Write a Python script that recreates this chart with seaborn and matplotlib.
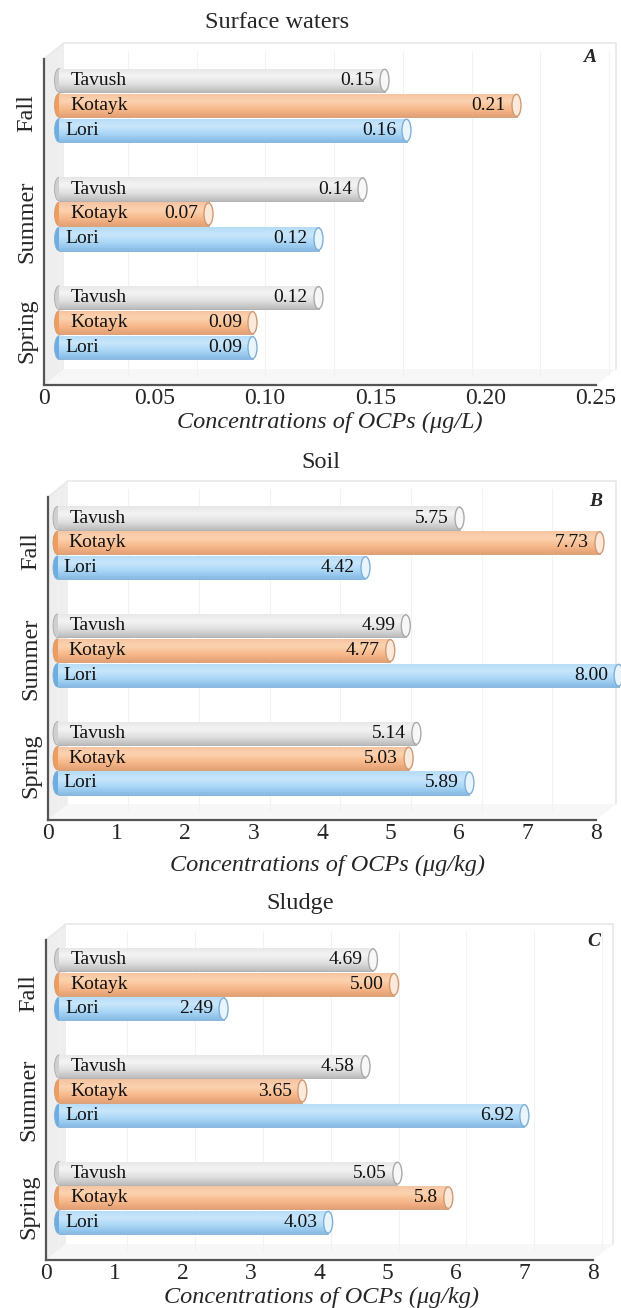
import numpy as np
import pandas as pd
import matplotlib
matplotlib.use("Agg")
import matplotlib.pyplot as plt
from matplotlib.patches import Ellipse, Polygon
from matplotlib.lines import Line2D
from matplotlib.colors import LinearSegmentedColormap
import seaborn as sns

# ---------------------------------------------------------------- data
seasons = ["Fall", "Summer", "Spring"]
sites = ["Tavush", "Kotayk", "Lori"]

# concentration labels per season, ordered Tavush, Kotayk, Lori
water_fall = ["0.15", "0.21", "0.16"]
water_summer = ["0.14", "0.07", "0.12"]
water_spring = ["0.12", "0.09", "0.09"]

soil_fall = ["5.75", "7.73", "4.42"]
soil_summer = ["4.99", "4.77", "8.00"]
soil_spring = ["5.14", "5.03", "5.89"]

sludge_fall = ["4.69", "5.00", "2.49"]
sludge_summer = ["4.58", "3.65", "6.92"]
sludge_spring = ["5.05", "5.8", "4.03"]

water_ticks = ["0", "0.05", "0.10", "0.15", "0.20", "0.25"]
soil_ticks = ["0", "1", "2", "3", "4", "5", "6", "7", "8"]
sludge_ticks = ["0", "1", "2", "3", "4", "5", "6", "7", "8"]

titles = ["Surface waters", "Soil", "Sludge"]
units = ["μg/L", "μg/kg", "μg/kg"]
letters = ["A", "B", "C"]

# ---------------------------------------------------------------- style
sns.set_style("white")
plt.rcParams["font.family"] = ["Liberation Serif", "DejaVu Serif"]

W, H = 621, 1308
fig = plt.figure(figsize=(W / 100, H / 100), dpi=100)
fig.patch.set_facecolor("white")


def fx(x):
    return x / W


def fy(y):
    return 1 - y / H


def box(left, right, top, bottom):
    return [fx(left), fy(bottom), (right - left) / W, (bottom - top) / H]


# cylinder shading: (top, highlight, mid, bottom), outline, end face, left cap
shades = {
    "Tavush": (["#e6e6e7", "#f4f4f5", "#dfdfe0", "#bcbcbc"], "#a9a9a9", "#f7f7f7", "#cfcfcf"),
    "Kotayk": (["#f6c3a0", "#fcd2b0", "#f7b98b", "#e3a074"], "#cf9a74", "#fde9d9", "#ee9d5e"),
    "Lori": (["#b6dcf7", "#c8e6fb", "#a8d5f6", "#86bae3"], "#80afd6", "#e8f5fd", "#6dade2"),
}
name_shift = {"Tavush": 12, "Kotayk": 11, "Lori": 6}

# panel geometry in pixels
panels = [
    dict(front=(44, 596, 59, 385), bar_x0=59, ppu=2200.0, shift_y=8,
         title_xy=(277, 22), label_xy=(330, 422), letter_xy=(590, 57),
         xmax=0.25, ticks=water_ticks,
         rows=[water_fall, water_summer, water_spring]),
    dict(front=(48, 596, 497, 820), bar_x0=57.5, ppu=70.7, shift_y=8,
         title_xy=(321, 462), label_xy=(327, 865), letter_xy=(596, 502),
         xmax=8, ticks=soil_ticks,
         rows=[soil_fall, soil_summer, soil_spring]),
    dict(front=(46, 593, 940, 1260), bar_x0=59, ppu=67.9, shift_y=9,
         title_xy=(300, 903), label_xy=(322, 1297), letter_xy=(594, 942),
         xmax=8, ticks=sludge_ticks,
         rows=[sludge_fall, sludge_summer, sludge_spring]),
]

grad = np.linspace(0, 1, 64).reshape(-1, 1)

for p, title, unit, letter in zip(panels, titles, units, letters):
    left, right, top, bottom = p["front"]

    # depth walls behind the plot
    d = 20
    fig.add_artist(Polygon([(fx(left), fy(top)), (fx(left + d), fy(top - 16)),
                            (fx(left + d), fy(bottom - 16)), (fx(left), fy(bottom))],
                           closed=True, transform=fig.transFigure,
                           facecolor="#eeeeee", edgecolor="none", zorder=-2))
    fig.add_artist(Polygon([(fx(left), fy(bottom)), (fx(left + d), fy(bottom - 16)),
                            (fx(right + d), fy(bottom - 16)), (fx(right), fy(bottom))],
                           closed=True, transform=fig.transFigure,
                           facecolor="#f7f7f7", edgecolor="none", zorder=-2))
    fig.add_artist(Line2D([fx(left), fx(left + d), fx(right + d), fx(right + d)],
                          [fy(top), fy(top - 16), fy(top - 16), fy(bottom - 16)],
                          transform=fig.transFigure, color="#e8e8e8", lw=1.2, zorder=-1))

    # long table for seaborn
    df = pd.DataFrame(
        [(s, site, float(v)) for s, row in zip(seasons, p["rows"]) for site, v in zip(sites, row)],
        columns=["season", "site", "value"],
    )
    texts = {(s, site): v for s, row in zip(seasons, p["rows"]) for site, v in zip(sites, row)}

    # back plane carrying the bars
    bw = right - left
    axb = fig.add_axes(box(p["bar_x0"], p["bar_x0"] + bw, top - p["shift_y"], bottom - p["shift_y"]))
    axb.set_facecolor("none")
    sns.barplot(data=df, y="season", x="value", hue="site", order=seasons,
                hue_order=sites, orient="h", width=0.69, gap=0.06,
                palette={k: v[0][2] for k, v in shades.items()}, saturation=1,
                legend=False, ax=axb)
    xlim_b = bw / p["ppu"]
    capw = 9 / p["ppu"]

    for site, cont in zip(sites, axb.containers):
        cols, edge, face, capcol = shades[site]
        cmap = LinearSegmentedColormap.from_list(site, cols)
        for season, patch in zip(seasons, cont):
            x, y = patch.get_x(), patch.get_y()
            w, h = patch.get_width(), patch.get_height()
            yc = y + h / 2
            end = x + w - capw / 2
            patch.set_width(end - x)
            patch.set_edgecolor(edge)
            patch.set_linewidth(0.6)
            patch.set_zorder(2)
            patch.set_clip_on(False)
            im = axb.imshow(grad, cmap=cmap, aspect="auto", interpolation="bilinear",
                            extent=(x, end, y + h, y), origin="upper", zorder=2.5)
            im.set_clip_path(patch)
            axb.add_patch(Ellipse((x, yc), capw, h, facecolor=capcol, edgecolor=edge,
                                  lw=0.6, zorder=1.8, clip_on=False))
            axb.add_patch(Ellipse((end, yc), capw, h * 0.94, facecolor=face,
                                  edgecolor=edge, lw=1.0, zorder=3, clip_on=False))
            axb.annotate(site, xy=(0, yc), xytext=(name_shift[site] * 0.72, 0),
                         textcoords="offset points", ha="left", va="center",
                         fontsize=14, color="#111111", zorder=4, annotation_clip=False)
            axb.annotate(texts[(season, site)], xy=(x + w, yc), xytext=(-15 * 0.72, 0),
                         textcoords="offset points", ha="right", va="center",
                         fontsize=14, color="#111111", zorder=4, annotation_clip=False)

    axb.set_xlim(0, xlim_b)
    axb.set_ylim(2.5, -0.5)
    axb.set_xticks(np.arange(0, xlim_b, p["xmax"] / 8 if p["xmax"] < 1 else 1))
    axb.grid(axis="x", color="#f2f2f2", lw=0.8)
    axb.tick_params(left=False, bottom=False, labelleft=False, labelbottom=False)
    axb.set_xlabel("")
    axb.set_ylabel("")
    for s in axb.spines.values():
        s.set_visible(False)

    # front frame with axes, ticks and labels
    axf = fig.add_axes(box(left, right, top, bottom))
    axf.set_facecolor("none")
    axf.set_xlim(0, p["xmax"])
    axf.set_ylim(0, 3)
    tick_vals = [float(t) for t in p["ticks"]]
    axf.set_xticks(tick_vals)
    axf.set_xticklabels(p["ticks"], fontsize=17)
    axf.set_yticks([0, 1, 2, 3])
    axf.set_yticklabels([])
    axf.set_yticks([0.5, 1.5, 2.5], minor=True)
    axf.set_yticklabels(seasons[::-1], minor=True, rotation=90, va="center", fontsize=17.5)
    axf.tick_params(axis="y", which="minor", length=0, pad=5)
    axf.tick_params(axis="y", which="major", direction="inout", length=4, width=1, color="#555555")
    axf.tick_params(axis="x", direction="inout", length=4, width=1, color="#555555", pad=0)
    for side in ("top", "right"):
        axf.spines[side].set_visible(False)
    for side in ("left", "bottom"):
        axf.spines[side].set_color("#555555")
        axf.spines[side].set_linewidth(1.6)
    axf.grid(False)

    fig.text(fx(p["title_xy"][0]), fy(p["title_xy"][1]), title, ha="center", va="center",
             fontsize=17.5)
    fig.text(fx(p["label_xy"][0]), fy(p["label_xy"][1]),
             f"Concentrations of OCPs ({unit})", ha="center", va="center",
             fontsize=17.5, style="italic")
    fig.text(fx(p["letter_xy"][0]), fy(p["letter_xy"][1]), letter, ha="center", va="center",
             fontsize=14, style="italic", weight="bold")

fig.savefig("out.png", dpi=100, facecolor="white")
